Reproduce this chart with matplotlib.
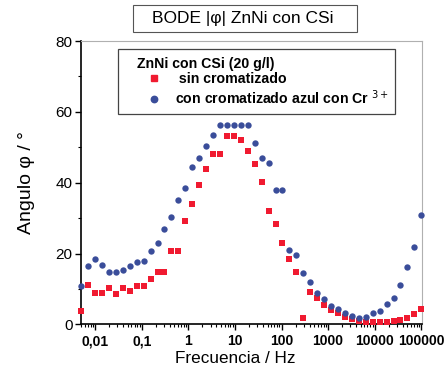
import numpy as np
import matplotlib
matplotlib.use("Agg")
import matplotlib.pyplot as plt
from matplotlib.lines import Line2D
from matplotlib.patches import Rectangle
from matplotlib.ticker import FixedLocator, FixedFormatter, LogLocator, NullFormatter, MultipleLocator

plt.rcParams['font.family'] = ['Liberation Sans', 'DejaVu Sans']

freq = [0.005, 0.00705, 0.00993, 0.0140, 0.0197, 0.0278, 0.0392, 0.0552, 0.0778, 0.1096,
        0.1545, 0.2178, 0.3069, 0.4325, 0.6095, 0.859, 1.211, 1.706, 2.404, 3.388,
        4.775, 6.73, 9.48, 13.37, 18.84, 26.5, 37.4, 52.7, 74.3, 104.7,
        147.6, 208, 293, 413, 582, 820, 1156, 1629, 2296, 3236,
        4560, 6427, 9057, 12764, 17989, 25351, 35727, 50350, 70958, 100000]

sin_crom = [3.9, 11.2, 8.8, 9.0, 10.2, 8.6, 10.2, 9.4, 10.9, 10.9,
            12.9, 14.8, 14.8, 20.8, 20.8, 29.2, 34.0, 39.4, 44.0, 48.1,
            48.1, 53.1, 53.1, 52.1, 49.0, 45.3, 40.1, 32.1, 28.3, 23.1,
            18.5, 14.7, 1.75, 9.3, 7.4, 5.5, 4.1, 3.2, 2.2, 1.55,
            1.07, 0.8, 0.8, 0.8, 0.8, 1.07, 1.27, 1.75, 3.0, 4.4]

con_crom = [11.0, 16.5, 18.4, 16.9, 14.7, 14.7, 15.4, 16.6, 17.6, 18.0,
            20.8, 22.9, 27.0, 30.3, 35.2, 38.6, 44.4, 46.9, 50.4, 53.6,
            56.2, 56.2, 56.2, 56.2, 56.2, 51.1, 47.0, 45.5, 37.9, 37.9,
            21.0, 19.7, 14.5, 12.1, 8.8, 7.2, 5.2, 4.3, 3.2, 2.4,
            1.75, 2.2, 3.2, 3.9, 5.8, 7.6, 11.2, 16.2, 22.0, 30.9]

xtick_vals = [0.01, 0.1, 1, 10, 100, 1000, 10000, 100000]
xtick_labels = ['0,01', '0,1', '1', '10', '100', '1000', '10000', '100000']
ytick_vals = [0, 20, 40, 60, 80]

red = '#f01a30'
blue = '#3a4d9a'

fig = plt.figure(figsize=(4.45, 3.72), dpi=100)
ax = fig.add_axes([0.182, 0.1277, 0.766, 0.762])

ax.scatter(freq, sin_crom, marker='s', s=17, color=red, linewidths=0, zorder=3, clip_on=False)
ax.scatter(freq, con_crom, marker='o', s=21, color=blue, linewidths=0, zorder=4, clip_on=False)

ax.set_xscale('log')
ax.set_xlim(0.00495, 1.03e5)
ax.set_ylim(0, 80)

ax.xaxis.set_major_locator(FixedLocator(xtick_vals))
ax.xaxis.set_major_formatter(FixedFormatter(xtick_labels))
ax.xaxis.set_minor_locator(LogLocator(base=10, subs=np.arange(2, 10), numticks=100))
ax.xaxis.set_minor_formatter(NullFormatter())
ax.yaxis.set_major_locator(FixedLocator(ytick_vals))
ax.yaxis.set_minor_locator(MultipleLocator(10))

ax.tick_params(axis='x', which='major', direction='out', length=4, width=1, labelsize=10, pad=3)
ax.tick_params(axis='x', which='minor', direction='out', length=2.5, width=0.8)
ax.tick_params(axis='y', which='major', direction='out', length=4, width=1, labelsize=11, pad=2)
ax.tick_params(axis='y', which='minor', direction='out', length=2.5, width=0.8)
for lab in ax.get_xticklabels():
    lab.set_fontweight('bold')

for s in ['left', 'bottom']:
    ax.spines[s].set_color('black')
    ax.spines[s].set_linewidth(1.2)
for s in ['top', 'right']:
    ax.spines[s].set_color('#b0b0b0')
    ax.spines[s].set_linewidth(0.8)

ax.set_xlabel('Frecuencia / Hz', fontsize=12.3)
ax.xaxis.set_label_coords(0.452, -0.095)
ax.set_ylabel('Angulo \u03c6 / \u00b0', fontsize=14, labelpad=15)

# title box
fig.patches.append(Rectangle((133 / 445, 1 - 32.3 / 372), 224 / 445, 27.3 / 372,
                             transform=fig.transFigure, facecolor='white',
                             edgecolor='#555555', linewidth=0.8))
fig.text(242.5 / 445, 1 - 18.8 / 372, 'BODE |\u03c6| ZnNi con CSi', ha='center', va='center',
         fontsize=12.5)

# legend frame
ax.add_patch(Rectangle((0.1094, 0.7425), 0.811, 0.228, transform=ax.transAxes,
                       facecolor='white', edgecolor='#444444', linewidth=0.9, zorder=5))

handles = [Line2D([], [], linestyle='none', marker='s', markersize=4.2, color=red),
           Line2D([], [], linestyle='none', marker='o', markersize=4.6, color=blue)]
labels = [' sin cromatizado', 'con cromatizado azul con Cr $^{3+}$']
leg = ax.legend(handles, labels, title='ZnNi con CSi (20 g/l)', loc='upper left',
                bbox_to_anchor=(0.164, 0.945), frameon=False,
                prop={'weight': 'bold', 'size': 10.2},
                title_fontproperties={'weight': 'bold', 'size': 10.2},
                alignment='left', handletextpad=0.3, borderpad=0, borderaxespad=0,
                labelspacing=0.12, handlelength=2.4)
leg.set_zorder(6)

fig.savefig('out.png', dpi=100)
